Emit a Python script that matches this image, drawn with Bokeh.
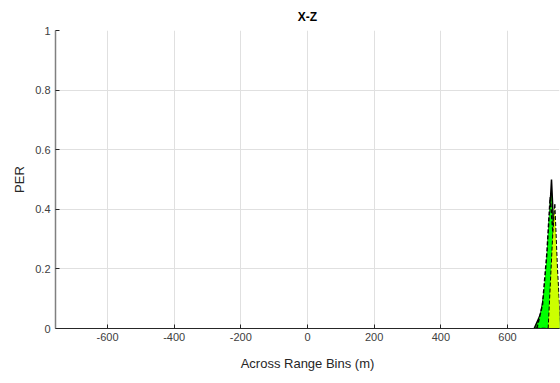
from bokeh.plotting import figure
from bokeh.models import FixedTicker, Range1d
from bokeh.embed import file_html
from bokeh.resources import INLINE

# Data
title_text = "X-Z"
x_ticks = [-600, -400, -200, 0, 200, 400, 600]
x_tick_labels = ["-600", "-400", "-200", "0", "200", "400", "600"]
y_ticks = [0, 0.2, 0.4, 0.6, 0.8, 1]
y_tick_labels = ["0", "0.2", "0.4", "0.6", "0.8", "1"]

# Three overlapping PER profiles near the far across-range edge
s1_x = [680, 700, 715, 725, 732, 742, 760]
s1_y = [0, 0.05, 0.15, 0.35, 0.50, 0.25, 0]
s2_x = [688, 705, 718, 728, 738, 752]
s2_y = [0, 0.08, 0.25, 0.44, 0.30, 0]
s3_x = [722, 735, 742, 750, 760]
s3_y = [0, 0.30, 0.42, 0.20, 0]

p = figure(width=560, height=383, output_backend="svg", toolbar_location=None,
           x_range=Range1d(-756, 756), y_range=Range1d(0, 1),
           min_border_left=55, min_border_top=0, min_border_bottom=55, min_border_right=1)

p.title.text = title_text
p.title.align = "center"
p.title.text_font = "Liberation Sans"
p.title.text_font_size = "12px"
p.title.text_font_style = "bold"
p.title.text_color = "#000000"
p.title.standoff = 14

p.outline_line_color = None
p.background_fill_color = "white"

# Filled profiles
p.patch(s1_x, s1_y, fill_color="#22e000", line_color="black", line_width=1.5)
p.patch(s2_x, s2_y, fill_color="#00ff00", line_color="black", line_width=1.5, line_dash="4 2")
p.patch(s3_x, s3_y, fill_color="#ccff00", line_color="black", line_width=1, line_dash="4 2")

p.xaxis.ticker = FixedTicker(ticks=x_ticks)
p.xaxis.major_label_overrides = {t: l for t, l in zip(x_ticks, x_tick_labels)}
p.yaxis.ticker = FixedTicker(ticks=y_ticks)
p.yaxis.major_label_overrides = {t: l for t, l in zip(y_ticks, y_tick_labels)}

for ax in (p.xaxis[0], p.yaxis[0]):
    ax.major_tick_in = 4
    ax.major_tick_out = 0
    ax.minor_tick_line_color = None
    ax.major_label_text_font = "Liberation Sans"
    ax.major_label_text_font_size = "11px"
    ax.major_label_text_color = "#404040"
    ax.axis_label_text_font = "Liberation Sans"
    ax.axis_label_text_font_size = "13px"
    ax.axis_label_text_font_style = "normal"
    ax.axis_label_text_color = "#262626"

p.xaxis.axis_label = "Across Range Bins (m)"
p.xaxis.axis_label_standoff = 12
p.xaxis.major_label_standoff = 4
p.yaxis.axis_label = "PER"
p.xaxis.axis_line_color = "#262626"
p.xaxis.major_tick_line_color = "#262626"
p.yaxis.axis_line_color = "#808080"
p.yaxis.axis_line_width = 1.5
p.yaxis.major_tick_line_color = "#262626"

p.xgrid.ticker = FixedTicker(ticks=x_ticks)
p.ygrid.ticker = FixedTicker(ticks=y_ticks)
p.grid.grid_line_color = "#e0e0e0"

open("out.html", "w").write(file_html(p, INLINE))
